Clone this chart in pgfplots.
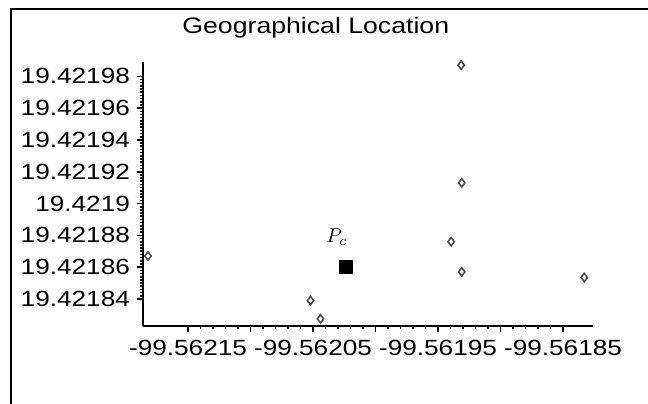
\documentclass[border=0pt]{standalone}
\usepackage{fontspec}
\setmainfont{Liberation Sans}[FakeStretch=1.19]
\usepackage{pgfplots}
\pgfplotsset{compat=1.18}
% Coordinates are stored as offsets (pgfplots' float precision cannot resolve 1e-6 deg):
% x = (longitude + 99.56220) * 1e5 ,  y = (latitude - 19.42180) * 1e5
\pgfplotstableread{
x     y
1.8   6.7
14.8  3.9
15.6  2.75
26.05 7.6
26.9  5.7
26.9  11.3
26.85 18.7
36.7  5.35
}\points
\begin{document}
\begin{tikzpicture}[x=1pt,y=1pt]
\useasboundingbox (0,0) rectangle (324,201.5);
\draw[line width=1pt] (5.5,-1) -- (5.5,197) -- (325,197);
\begin{axis}[
  at={(71.5pt,38.5pt)}, anchor=south west,
  scale only axis, width=225pt, height=132pt,
  xmin=1.4, xmax=37.4, ymin=2.3, ymax=18.9,
  axis lines=left,
  axis line style={-, line width=1pt},
  tick align=outside,
  xtick={5,10,...,35},
  xticklabels={{\mbox{-99.56215}},,{\mbox{-99.56205}},,{\mbox{-99.56195}},,{\mbox{-99.56185}}},
  ytick={4,6,...,18},
  yticklabels={{\mbox{19.42184}},{\mbox{19.42186}},{\mbox{19.42188}},{\mbox{19.4219}},{\mbox{19.42192}},{\mbox{19.42194}},{\mbox{19.42196}},{\mbox{19.42198}}},
  minor x tick num=4, minor y tick num=9,
  major tick length=3pt, minor tick length=1.5pt,
  every tick/.style={black, line width=0.8pt},
  ticklabel style={font=\fontsize{11}{13}\selectfont},
  xticklabel style={yshift=-0.5pt},
  /pgf/number format/assume math mode=true,
  clip=false,
  title={Geographical Location},
  every axis title/.style={at={(0.384,1)}, anchor=base, yshift=14.5pt, font=\fontsize{11.2}{13}\selectfont},
]
\addplot[only marks, mark=diamond, mark size=2.1pt, mark options={draw=black!70, line width=0.8pt}] table[x=x,y=y] {\points};
\addplot[only marks, mark=square*, mark size=3.2pt, mark options={fill=black, draw=black}] coordinates {(17.6,6.0)};
\node[font=\fontsize{10}{12}\selectfont] at (axis cs:16.9,7.9) {$P_c$};
\end{axis}
\end{tikzpicture}
\end{document}
